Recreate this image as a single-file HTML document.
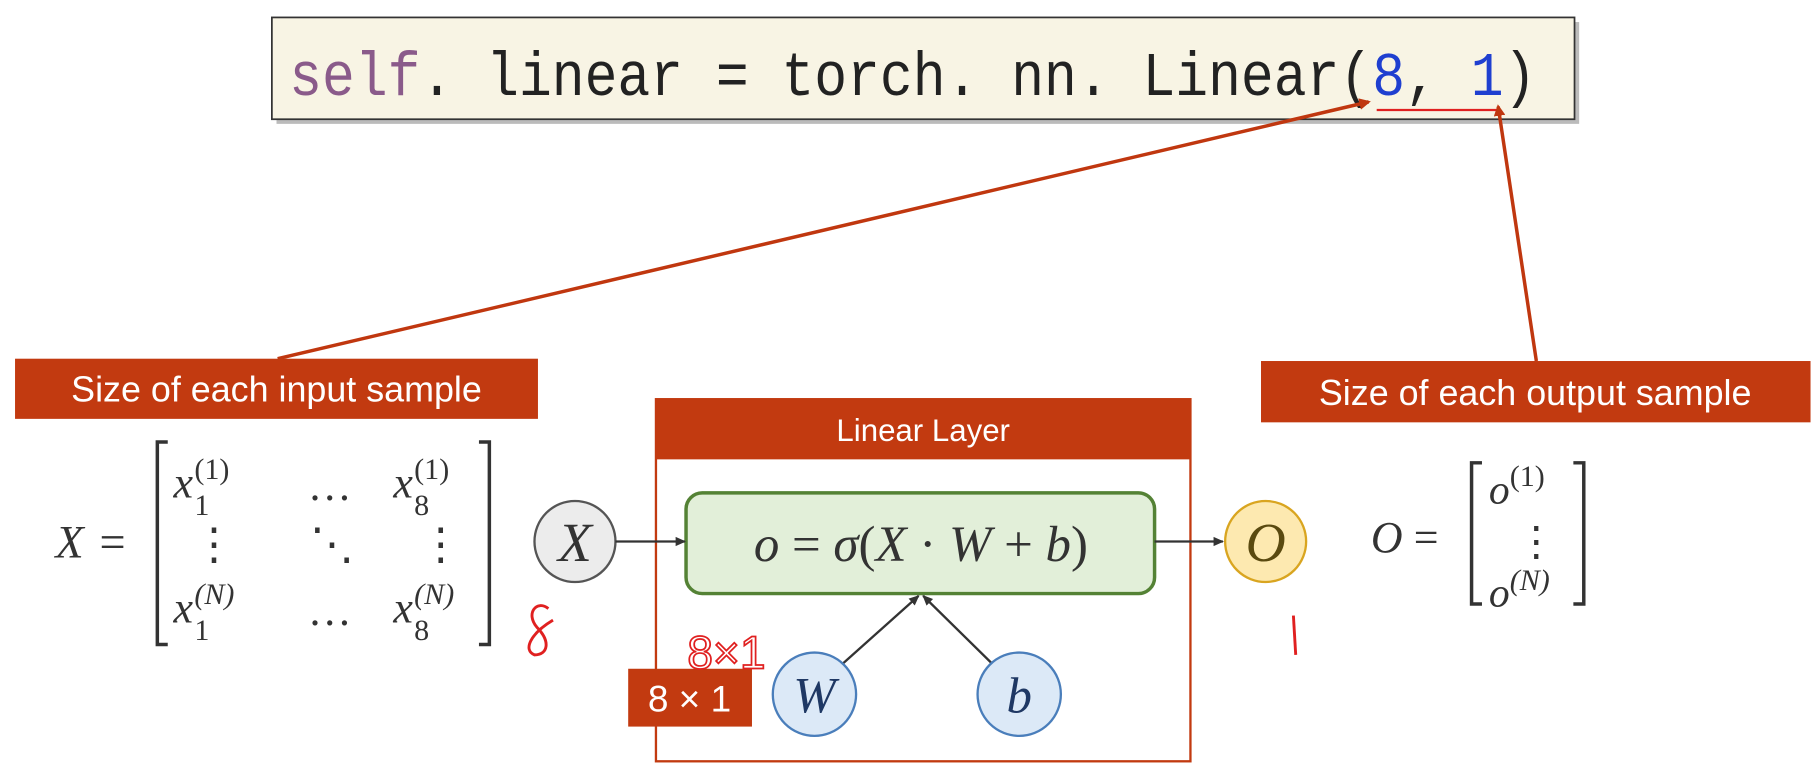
<!DOCTYPE html>
<html><head><meta charset="utf-8"><style>
html,body{margin:0;padding:0;background:#fff;}
svg{display:block;}
.m{font-family:"Liberation Serif",serif;font-style:italic;fill:#333;}
.n{font-family:"Liberation Serif",serif;fill:#333;}
.s{font-family:"Liberation Sans",sans-serif;fill:#fff;}
</style></head><body>
<svg width="1814" height="766" viewBox="0 0 1568 662" xmlns="http://www.w3.org/2000/svg">
<defs>
<marker id="ar" markerWidth="10" markerHeight="10" refX="8" refY="5" orient="auto" markerUnits="userSpaceOnUse"><path d="M0,0 L10,5 L0,10 z" fill="#c0370f"/></marker>
<marker id="ak" markerWidth="10" markerHeight="10" refX="8" refY="5" orient="auto" markerUnits="userSpaceOnUse"><path d="M0,1 L9,5 L0,9 z" fill="#333"/></marker>
</defs>
<rect width="1568" height="662" fill="#fff"/>
<rect x="239" y="19" width="1126" height="88" fill="#bbb"/>
<rect x="235" y="15" width="1126" height="88" fill="#f8f4e4" stroke="#333" stroke-width="1.5"/>
<text x="250" y="82" font-family="Liberation Mono,monospace" font-size="54" textLength="1078" lengthAdjust="spacingAndGlyphs"><tspan fill="#8a5a8a">self</tspan><tspan fill="#222">. linear = torch. nn. Linear(</tspan><tspan fill="#1f3fd0">8</tspan><tspan fill="#222">,  </tspan><tspan fill="#1f3fd0">1</tspan><tspan fill="#222">)</tspan></text>
<line x1="240" y1="310" x2="1183" y2="88" stroke="#c0370f" stroke-width="3" marker-end="url(#ar)"/>
<line x1="1190" y1="95" x2="1296" y2="95" stroke="#e02020" stroke-width="2"/>
<line x1="1328" y1="312" x2="1295" y2="92" stroke="#c0370f" stroke-width="3" marker-end="url(#ar)"/>
<rect x="13" y="310" width="452" height="52" fill="#c23a10"/>
<text class="s" x="239" y="347" font-size="31" text-anchor="middle">Size of each input sample</text>
<rect x="1090" y="312" width="475" height="53" fill="#c23a10"/>
<text class="s" x="1327" y="350" font-size="31" text-anchor="middle">Size of each output sample</text>
<rect x="567" y="345" width="462" height="313" fill="none" stroke="#c23a10" stroke-width="2"/>
<rect x="567" y="345" width="462" height="52" fill="#c23a10"/>
<text class="s" x="798" y="381" font-size="27" text-anchor="middle">Linear Layer</text>
<rect x="593" y="426" width="405" height="87" rx="14" fill="#e2efd9" stroke="#548235" stroke-width="3"/>
<text class="m" x="796" y="485" font-size="44" text-anchor="middle">o <tspan font-style="normal">=</tspan> σ<tspan font-style="normal">(</tspan>X <tspan font-style="normal">·</tspan> W <tspan font-style="normal">+</tspan> b<tspan font-style="normal">)</tspan></text>
<circle cx="497" cy="468" r="35" fill="#ececec" stroke="#555" stroke-width="2"/>
<text class="m" x="497" y="485" font-size="48" text-anchor="middle">X</text>
<line x1="532" y1="468" x2="592" y2="468" stroke="#333" stroke-width="2" marker-end="url(#ak)"/>
<line x1="998" y1="468" x2="1057" y2="468" stroke="#333" stroke-width="2" marker-end="url(#ak)"/>
<circle cx="1094" cy="468" r="35" fill="#fde9b0" stroke="#d9a520" stroke-width="2"/>
<text class="m" x="1094" y="485" font-size="48" text-anchor="middle" style="fill:#5a4a10">O</text>
<line x1="728" y1="574" x2="794" y2="515" stroke="#333" stroke-width="2" marker-end="url(#ak)"/>
<line x1="858" y1="574" x2="798" y2="515" stroke="#333" stroke-width="2" marker-end="url(#ak)"/>
<circle cx="704" cy="600" r="36" fill="#dce9f7" stroke="#4a7ebb" stroke-width="2"/>
<text class="m" x="704" y="616" font-size="44" text-anchor="middle" style="fill:#1f3864">W</text>
<circle cx="881" cy="600" r="36" fill="#dce9f7" stroke="#4a7ebb" stroke-width="2"/>
<text class="m" x="881" y="616" font-size="44" text-anchor="middle" style="fill:#1f3864">b</text>
<rect x="543" y="578" width="107" height="50" fill="#c23a10"/>
<text class="s" x="596" y="615" font-size="32" text-anchor="middle">8 × 1</text>
<path d="M474,526 C464,518 454,530 464,542 C476,554 474,566 462,566 C452,562 458,548 478,536" fill="none" stroke="#e02020" stroke-width="2.5"/>
<text x="594" y="578" font-family="Liberation Sans,sans-serif" font-size="40" fill="none" stroke="#e02020" stroke-width="1.5">8×1</text>
<path d="M1118,532 L1120,566" stroke="#e02020" stroke-width="2.5"/>
<text class="m" x="48" y="482" font-size="40">X</text>
<text class="n" x="86" y="482" font-size="40">=</text>
<path d="M145,382 L136,382 L136,557 L145,557" fill="none" stroke="#333" stroke-width="3"/>
<path d="M414,382 L423,382 L423,557 L414,557" fill="none" stroke="#333" stroke-width="3"/>
<g font-size="38">
<text class="m" x="150" y="430">x</text><text class="n" x="168" y="445" font-size="26">1</text><text class="n" x="168" y="414" font-size="26">(1)</text>
<text class="n" x="266" y="432">…</text>
<text class="m" x="340" y="430">x</text><text class="n" x="358" y="445" font-size="26">8</text><text class="n" x="358" y="414" font-size="26">(1)</text>
<text class="n" x="166" y="483">⋮</text><text class="n" x="268" y="483">⋱</text><text class="n" x="362" y="483">⋮</text>
<text class="m" x="150" y="538">x</text><text class="n" x="168" y="553" font-size="26">1</text><text class="n" x="168" y="522" font-size="26" style="font-style:italic">(N)</text>
<text class="n" x="266" y="540">…</text>
<text class="m" x="340" y="538">x</text><text class="n" x="358" y="553" font-size="26">8</text><text class="n" x="358" y="522" font-size="26" style="font-style:italic">(N)</text>
</g>
<text class="m" x="1185" y="477" font-size="38">O</text>
<text class="n" x="1222" y="477" font-size="38">=</text>
<path d="M1281,400 L1272,400 L1272,522 L1281,522" fill="none" stroke="#333" stroke-width="3"/>
<path d="M1360,400 L1369,400 L1369,522 L1360,522" fill="none" stroke="#333" stroke-width="3"/>
<text class="m" x="1287" y="435" font-size="36">o</text><text class="n" x="1305" y="420" font-size="26">(1)</text>
<text class="n" x="1310" y="480" font-size="36">⋮</text>
<text class="m" x="1287" y="524" font-size="36">o</text><text class="n" x="1305" y="510" font-size="26" style="font-style:italic">(N)</text>
</svg>
</body></html>
